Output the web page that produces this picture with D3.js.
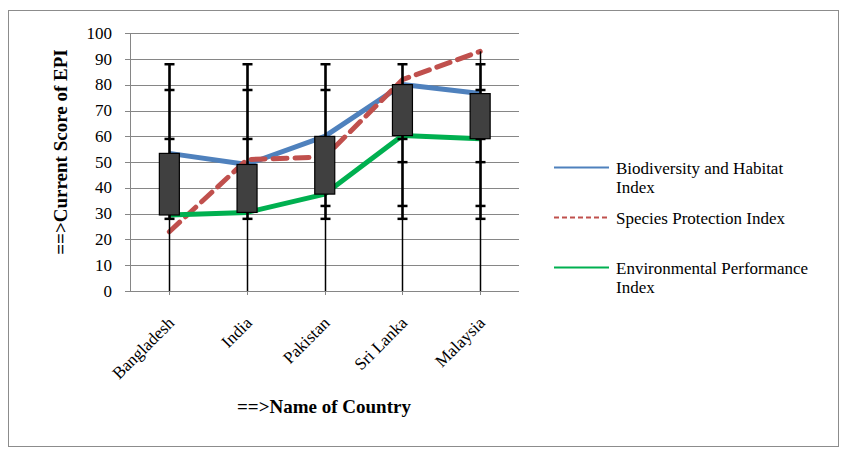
<!DOCTYPE html>
<html><head><meta charset="utf-8">
<script src="https://cdn.jsdelivr.net/npm/d3@7"></script>
<style>body{margin:0;background:#fff}svg{display:block}text{font-family:"Liberation Serif","Times New Roman",serif}</style>
</head><body>
<script>
const categories = ["Bangladesh","India","Pakistan","Sri Lanka","Malaysia"];
const biodiversity = [53.4, 49.1, 60.0, 80.1, 76.6];
const species = [23, 51, 52, 82, 93];
const epi = [29.5, 30.5, 37.6, 60.3, 59.1];
const whiskerLow = [0, 0, 0, 0, 0];
const whiskerHigh = [88, 88, 88, 88, 93];
const capValues = [[88,78,59,28],[88,78,59,28],[88,78,33,28],[88,59,50,33,28],[88,78,59,50,33,28]];
const yTicks = [0,10,20,30,40,50,60,70,80,90,100];
const seriesNames = ["Biodiversity and Habitat Index","Species Protection Index","Environmental Performance Index"];

const W=854,H=459;
const svg=d3.select("body").append("svg").attr("width",W).attr("height",H);
svg.append("rect").attr("x",8.5).attr("y",10.5).attr("width",830).attr("height",436)
  .attr("fill","#fff").attr("stroke","#8c8c8c").attr("stroke-width",1);

const x=d3.scaleBand().domain(categories).range([130.5,519]).padding(0);
const y=d3.scaleLinear().domain([0,100]).range([291,33.3]);
const cx=c=>x(c)+x.bandwidth()/2;

// gridlines
svg.append("g").selectAll("line").data(yTicks).join("line")
  .attr("x1",125).attr("x2",519).attr("y1",d=>Math.round(y(d))+0.5).attr("y2",d=>Math.round(y(d))+0.5)
  .attr("stroke","#868686").attr("stroke-width",1);
// y axis
svg.append("line").attr("x1",130.5).attr("x2",130.5).attr("y1",y(100)).attr("y2",y(0)+0.5).attr("stroke","#868686");
svg.append("g").selectAll("text").data(yTicks).join("text")
  .attr("x",112).attr("y",d=>y(d)+5.5).attr("text-anchor","end").attr("font-size",17).attr("fill","#000").text(d=>d);
// x ticks
svg.append("g").selectAll("line").data(categories).join("line")
  .attr("x1",d=>Math.round(cx(d))+0.5).attr("x2",d=>Math.round(cx(d))+0.5).attr("y1",y(0)).attr("y2",y(0)+4)
  .attr("stroke","#868686");
// x labels
svg.append("g").selectAll("text").data(categories).join("text")
  .attr("transform",d=>`translate(${cx(d)+6},324) rotate(-45)`).attr("text-anchor","end")
  .attr("font-size",17).attr("fill","#000").text(d=>d);

// lines
const colors=["#4F81BD","#C0504D","#00B050"];
const data=[biodiversity,species,epi];
const line=d3.line().x((d,i)=>cx(categories[i])).y(d=>y(d));
data.forEach((s,k)=>{
  svg.append("path").datum(s).attr("d",line).attr("fill","none").attr("stroke",colors[k])
    .attr("stroke-width",5).attr("stroke-dasharray",k===1?"14,8":null).attr("stroke-linecap",k===1?"round":"butt")
    .attr("stroke-linejoin","round");
});

// whiskers
categories.forEach((c,i)=>{
  const X=Math.round(cx(c))+0.5;
  svg.append("line").attr("x1",X).attr("x2",X).attr("y1",y(whiskerLow[i])).attr("y2",y(whiskerHigh[i])).attr("stroke","#000").attr("stroke-width",1.5);
  const caps=capValues[i];
  svg.append("line").attr("x1",X).attr("x2",X).attr("y1",y(d3.min(caps))).attr("y2",y(d3.max(caps))).attr("stroke","#000").attr("stroke-width",2.5);
  svg.append("g").selectAll("line").data(caps).join("line")
    .attr("x1",X-5).attr("x2",X+5).attr("y1",d=>y(d)).attr("y2",d=>y(d)).attr("stroke","#000").attr("stroke-width",2.5);
});
// boxes
categories.forEach((c,i)=>{
  const top=Math.max(biodiversity[i],epi[i]), bot=Math.min(biodiversity[i],epi[i]);
  svg.append("rect").attr("x",cx(c)-10).attr("y",y(top)).attr("width",20).attr("height",y(bot)-y(top))
    .attr("fill","#404040").attr("stroke","#000").attr("stroke-width",1.2);
});

// axis titles
svg.append("text").attr("transform","translate(67,152) rotate(-90)").attr("text-anchor","middle")
  .attr("font-size",19).attr("font-weight","bold").attr("fill","#000").text("==>Current Score of EPI");
svg.append("text").attr("x",324).attr("y",413).attr("text-anchor","middle")
  .attr("font-size",19).attr("font-weight","bold").attr("fill","#000").text("==>Name of Country");

// legend
const lg=[{y:167.5,lines:["Biodiversity and Habitat","Index"]},{y:217.5,lines:["Species Protection Index"]},{y:267.5,lines:["Environmental Performance","Index"]}];
lg.forEach((l,k)=>{
  svg.append("line").attr("x1",554).attr("x2",609).attr("y1",l.y).attr("y2",l.y).attr("stroke",colors[k])
    .attr("stroke-width",2).attr("stroke-dasharray",k===1?"5,3":null);
  const t=svg.append("text").attr("x",616).attr("y",l.y+6).attr("font-size",17).attr("fill","#000");
  l.lines.forEach((s,j)=>t.append("tspan").attr("x",616).attr("dy",j===0?0:19.5).text(s));
});
</script>
</body></html>
